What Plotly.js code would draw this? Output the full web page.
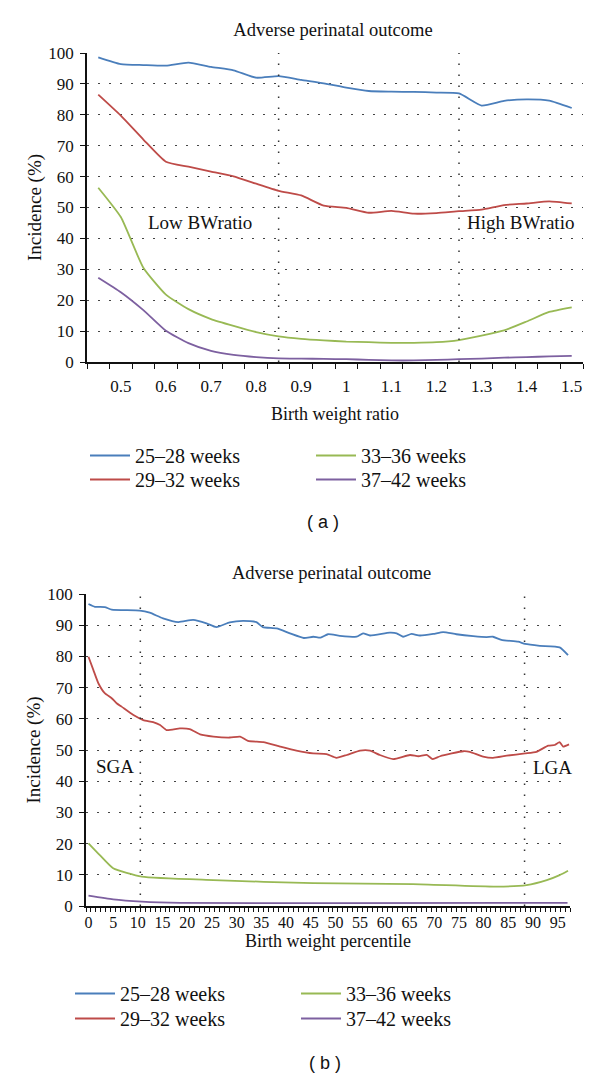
<!DOCTYPE html>
<html>
<head>
<meta charset="utf-8">
<script src="https://cdn.plot.ly/plotly-3.0.1.min.js"></script>
<style>html,body{margin:0;padding:0;background:#fff;}#chart{width:600px;height:1081px;}</style>
</head>
<body>
<div id="chart"></div>
<script>
// ---------- DATA ----------
const seriesNames = ['25–28 weeks', '29–32 weeks', '33–36 weeks', '37–42 weeks'];

// (a) Birth weight ratio
const ratioX = [0.45,0.50,0.55,0.60,0.65,0.70,0.75,0.80,0.85,0.90,0.95,1.00,1.05,1.10,1.15,1.20,1.25,1.30,1.35,1.40,1.45,1.50];
const ratio_25_28 = [98.6,96.4,96.1,95.9,96.9,95.5,94.4,92.0,92.5,91.3,90.2,88.8,87.7,87.5,87.4,87.2,86.9,83.0,84.5,85.0,84.6,82.2];
const ratio_29_32 = [86.5,79.7,72.0,64.8,63.2,61.6,60.1,57.7,55.4,53.9,50.6,49.9,48.3,48.9,48.0,48.2,48.8,49.3,50.8,51.3,52.0,51.3];
const ratio_33_36 = [56.4,46.9,30.5,21.8,17.1,13.9,11.7,9.7,8.3,7.5,7.0,6.6,6.4,6.2,6.2,6.4,7.1,8.5,10.2,13.1,16.2,17.7];
const ratio_37_42 = [27.3,22.6,16.8,10.1,6.1,3.6,2.3,1.6,1.2,1.1,1.0,0.9,0.7,0.5,0.5,0.7,0.9,1.1,1.4,1.6,1.8,2.0];
const ratioTickVals = [0.5,0.6,0.7,0.8,0.9,1.0,1.1,1.2,1.3,1.4,1.5];
const ratioTickText = ['0.5','0.6','0.7','0.8','0.9','1','1.1','1.2','1.3','1.4','1.5'];
const ratioCutoffs = [0.85, 1.25];
const ratioZoneLabels = ['Low BWratio', 'High BWratio'];
const ratioZoneX = [0.676, 1.386];
const ratioZoneY = [45.3, 45.3];

// (b) Birth weight percentile
const pct_25_28_x = [0,1.3,3.3,4.7,10.4,12.4,15.1,18.2,21.2,23.9,25.9,28.6,31.3,34,35.3,38.1,40.8,43.6,45.5,47,48.5,50.9,54.3,55.6,57,61,62.4,63.7,65.4,67.1,69.8,71.8,74.5,77.9,80.6,81.9,83.6,87,88.4,91.4,95.4,97.1];
const pct_25_28_y = [96.8,95.9,95.8,95.0,94.7,94.0,92.2,91.0,91.7,90.6,89.4,90.9,91.4,91.0,89.4,89.0,87.4,85.9,86.3,86.0,87.1,86.6,86.3,87.4,86.7,87.6,87.4,86.3,87.2,86.7,87.2,87.8,87.1,86.5,86.2,86.3,85.3,84.7,84.0,83.4,82.9,80.4];
const pct_29_32_x = [0,1,2,3.3,4.7,5.7,6.7,9.1,11.1,13.1,14.5,15.8,18.5,20.5,22.6,25.3,28.6,30.7,32.3,35.4,38.8,42.1,45.5,48.2,50.2,52.3,55,57,59,61.7,65.1,66.8,68.5,69.7,71.2,75.9,77.2,79.9,81.9,84.7,88.4,90.7,93.1,94.4,95.4,96.1,97.3];
const pct_29_32_y = [79.9,75.6,71.4,68.2,66.6,65.0,63.9,61.2,59.6,58.9,58.0,56.4,56.9,56.7,55.0,54.3,54.0,54.3,52.9,52.5,51.1,49.8,48.9,48.7,47.5,48.4,49.8,49.8,48.4,47.1,48.4,48.0,48.4,47.1,48.0,49.6,49.4,47.9,47.5,48.2,48.9,49.4,51.4,51.6,52.5,51.1,51.8];
const pct_33_36_x = [0,2.3,5,10.8,25.3,45.5,65.7,82.6,88.7,92.8,95.4,97.1];
const pct_33_36_y = [20.1,16.3,12.1,9.4,8.3,7.3,7.0,6.2,6.7,8.3,9.9,11.3];
const pct_37_42_x = [0,5,10.8,18.6,50,97];
const pct_37_42_y = [3.3,2.1,1.4,1.0,0.9,1.0];
const pctTickVals = [0,5,10,15,20,25,30,35,40,45,50,55,60,65,70,75,80,85,90,95];
const pctCutoffs = [10.5, 88.3];
const pctZoneLabels = ['SGA', 'LGA'];
const pctZoneX = [5.4, 94.0];
const pctZoneY = [44.6, 44.5];

const chartTitle = 'Adverse perinatal outcome';
const yTitle = 'Incidence (%)';
const xTitleA = 'Birth weight ratio';
const xTitleB = 'Birth weight percentile';

// ---------- STYLE ----------
const colors = ['#4a7ebb', '#be4b48', '#98b954', '#7d60a0'];
const SERIF = 'Liberation Serif';
const SANS = 'Liberation Sans';
const W = 600, H = 1081;
const px = v => v / W;
const py = v => 1 - v / H;

function mk(x, y, i, xa, ya, leg) {
  return {
    x: x, y: y, name: seriesNames[i], type: 'scatter', mode: 'lines',
    xaxis: xa, yaxis: ya, legend: leg,
    line: {color: colors[i], width: 1.8, shape: 'spline', smoothing: 0.5},
    hoverinfo: 'x+y+name'
  };
}

// each legend is one row: (25-28 | 33-36) and (29-32 | 37-42)
const traces = [
  mk(ratioX, ratio_25_28, 0, 'x', 'y', 'legend'),
  mk(ratioX, ratio_33_36, 2, 'x', 'y', 'legend'),
  mk(ratioX, ratio_29_32, 1, 'x', 'y', 'legend3'),
  mk(ratioX, ratio_37_42, 3, 'x', 'y', 'legend3'),
  mk(pct_25_28_x, pct_25_28_y, 0, 'x2', 'y2', 'legend2'),
  mk(pct_33_36_x, pct_33_36_y, 2, 'x2', 'y2', 'legend2'),
  mk(pct_29_32_x, pct_29_32_y, 1, 'x2', 'y2', 'legend4'),
  mk(pct_37_42_x, pct_37_42_y, 3, 'x2', 'y2', 'legend4')
];

const tickFont = {family: SERIF, size: 17, color: '#111'};
const gridDash = '1.5px,9.5px';

function yAxis(domain, anchor) {
  return {
    domain: domain, anchor: anchor, range: [0, 100], dtick: 10, tick0: 0,
    showline: true, linecolor: '#111', linewidth: 1.5,
    ticks: 'outside', ticklen: 5, tickcolor: '#111', tickwidth: 1.3,
    showgrid: true, gridcolor: '#444', gridwidth: 1.3, griddash: gridDash,
    zeroline: false, tickfont: tickFont, ticklabelstandoff: 3,
    title: {text: yTitle, font: {family: SERIF, size: 19, color: '#111'}, standoff: 2},
    fixedrange: true
  };
}

const shapes = [];
ratioCutoffs.forEach(c => shapes.push({type: 'line', xref: 'x', yref: 'y', x0: c, x1: c, y0: 0, y1: 100,
  line: {color: '#333', width: 1.5, dash: gridDash}}));
pctCutoffs.forEach(c => shapes.push({type: 'line', xref: 'x2', yref: 'y2', x0: c, x1: c, y0: 0, y1: 100,
  line: {color: '#333', width: 1.5, dash: gridDash}}));

const annotations = [];
ratioZoneLabels.forEach((t, i) => annotations.push({text: t, xref: 'x', yref: 'y', x: ratioZoneX[i], y: ratioZoneY[i],
  showarrow: false, font: {family: SERIF, size: 19, color: '#111'}}));
pctZoneLabels.forEach((t, i) => annotations.push({text: t, xref: 'x2', yref: 'y2', x: pctZoneX[i], y: pctZoneY[i],
  showarrow: false, font: {family: SERIF, size: 19, color: '#111'}}));
annotations.push({text: chartTitle, xref: 'paper', yref: 'paper', x: px(331), y: py(573), xanchor: 'center', yanchor: 'middle',
  showarrow: false, font: {family: SERIF, size: 18.5, color: '#111'}});
annotations.push({text: '( a )', xref: 'paper', yref: 'paper', x: px(323), y: py(522), xanchor: 'center', yanchor: 'middle',
  showarrow: false, font: {family: SANS, size: 18, color: '#111'}});
annotations.push({text: '( b )', xref: 'paper', yref: 'paper', x: px(325), y: py(1063), xanchor: 'center', yanchor: 'middle',
  showarrow: false, font: {family: SANS, size: 18, color: '#111'}});

function leg(xPix, topPix) {
  return {
    x: px(xPix), y: py(topPix),
    orientation: 'h', xanchor: 'left', yanchor: 'top',
    entrywidth: 171, entrywidthmode: 'pixels', itemwidth: 40,
    font: {family: SERIF, size: 20, color: '#111'},
    bgcolor: 'rgba(0,0,0,0)', traceorder: 'normal'
  };
}

const layout = {
  width: W, height: H,
  font: {family: SERIF, color: '#111'},
  margin: {l: 0, r: 0, t: 0, b: 0, autoexpand: false},
  paper_bgcolor: '#fff', plot_bgcolor: '#fff',
  showlegend: true,
  title: {text: chartTitle, x: px(333), y: py(30), xanchor: 'center', yanchor: 'middle', xref: 'paper', yref: 'paper',
    font: {family: SERIF, size: 18.5, color: '#111'}},
  xaxis: {
    domain: [px(87), px(583)], anchor: 'y', range: [0.425, 1.525],
    tickmode: 'array', tickvals: ratioTickVals, ticktext: ratioTickText,
    ticks: '', showline: true, linecolor: '#111', linewidth: 1.5,
    minor: {ticks: 'outside', tick0: 0.425, dtick: 0.05, ticklen: 5, tickcolor: '#111', tickwidth: 1.3, showgrid: false},
    showgrid: false, zeroline: false, tickfont: tickFont, ticklabelstandoff: 8,
    title: {text: xTitleA, font: {family: SERIF, size: 18, color: '#111'}, standoff: 12},
    fixedrange: true
  },
  yaxis: yAxis([py(362), py(53)], 'x'),
  xaxis2: {
    domain: [px(86), px(570)], anchor: 'y2', range: [-0.5, 97.5],
    tickmode: 'array', tickvals: pctTickVals,
    ticks: '', showline: true, linecolor: '#111', linewidth: 1.5,
    minor: {ticks: 'outside', tick0: -0.5, dtick: 1, ticklen: 4, tickcolor: '#111', tickwidth: 1, showgrid: false},
    showgrid: false, zeroline: false, tickfont: {family: SERIF, size: 16, color: '#111'}, ticklabelstandoff: 1,
    title: {text: xTitleB, font: {family: SERIF, size: 18, color: '#111'}, standoff: 4},
    fixedrange: true
  },
  yaxis2: yAxis([py(906), py(594)], 'x2'),
  legend: leg(85, 436),
  legend3: leg(85, 460),
  legend2: leg(70, 974),
  legend4: leg(70, 999),
  shapes: shapes,
  annotations: annotations
};

Plotly.newPlot('chart', traces, layout, {displayModeBar: false});
</script>
</body>
</html>
